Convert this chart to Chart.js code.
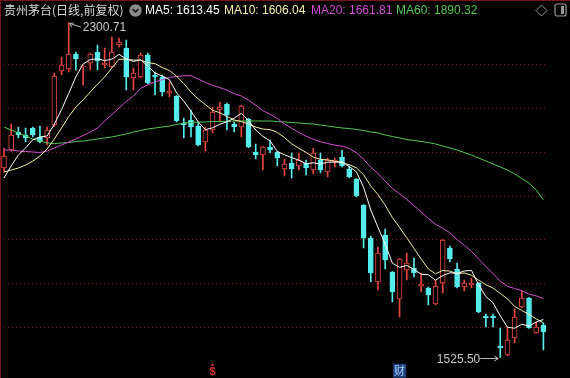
<!DOCTYPE html>
<html><head><meta charset="utf-8">
<script src="https://cdn.jsdelivr.net/npm/chart.js@4.4.1/dist/chart.umd.min.js"></script>
<style>
html,body{margin:0;padding:0;background:#000;}
#wrap{position:relative;width:570px;height:378px;overflow:hidden;background:#000;}
#c{position:absolute;left:0;top:0;}
#hdr{position:absolute;left:0;top:0;width:570px;height:20px;font-family:"Liberation Sans",Arial,sans-serif;font-size:12px;line-height:20px;white-space:nowrap;}
#hdr span{position:absolute;top:0;}
#hdr svg{position:absolute;}
#bl{position:absolute;left:0;top:0;width:1px;height:378px;background:#7a1515;}
#bt{position:absolute;left:0;top:0;width:570px;height:1px;background:#7a1515;}
</style></head>
<body><div id="wrap"><canvas id="c" width="570" height="378"></canvas>
<div id="hdr">
 <span id="title" style="left:4px;color:#d8d8d8;font-family:'Noto Sans CJK SC';">贵州茅台(日线,前复权)</span>
 <svg style="left:129px;top:4px" width="13" height="13" viewBox="0 0 13 13"><circle cx="6.5" cy="6.5" r="6.2" fill="#8a8a8a"/><polyline points="3.6,5.2 6.5,8 9.4,5.2" fill="none" stroke="#111" stroke-width="1.6"/></svg>
 <span id="m5" style="left:145px;color:#ffffff"></span>
 <span id="m10" style="left:224px;color:#f4f0a8"></span>
 <span id="m20" style="left:311px;color:#d24fd2"></span>
 <span id="m60" style="left:396px;color:#55c855"></span>
 <svg style="left:535px;top:4px" width="13" height="13" viewBox="0 0 13 13"><polygon points="6.5,1 12,6.5 6.5,12 1,6.5" fill="none" stroke="#9a9a9a" stroke-width="1"/></svg>
 <svg style="left:554px;top:3px" width="13" height="14" viewBox="0 0 13 14"><rect x="1" y="1" width="11" height="12" rx="2" fill="none" stroke="#9a9a9a" stroke-width="1.2"/><rect x="7" y="3" width="3" height="8" fill="#9a9a9a"/></svg>
</div>
<div id="bl"></div><div id="bt"></div>
</div>
<script>
const opens = [1964.0,2005.7,2047.4,2040.4,2056.6,2035.8,2033.5,2063.5,2188.5,2193.1,2227.8,2197.8,2207.0,2232.5,2202.4,2197.8,2248.7,2241.7,2172.3,2174.6,2225.5,2179.2,2174.6,2137.6,2130.7,2068.2,2075.1,2061.2,2024.2,2052.0,2098.3,2112.1,2065.9,2058.9,2077.4,2001.1,1994.1,2012.6,2001.1,1961.7,1975.6,1968.7,1975.6,1959.4,1982.6,1954.8,1977.9,1989.5,1961.7,1938.6,1878.4,1802.1,1700.3,1809.0,1723.4,1660.9,1728.0,1732.6,1691.0,1686.4,1649.3,1697.9,1778.9,1730.3,1688.7,1693.3,1697.9,1621.6,1621.6,1552.2,1531.3,1570.7,1642.4,1663.2,1582.2,1600.7];
const highs = [2010.3,2065.9,2058.9,2056.6,2058.9,2061.2,2058.9,2183.9,2220.9,2300.71,2232.5,2201.0,2230.2,2248.7,2241.7,2267.2,2264.9,2260.2,2195.4,2230.2,2230.2,2186.2,2179.2,2163.1,2131.5,2079.7,2098.3,2068.2,2058.9,2105.2,2116.8,2114.5,2070.5,2109.8,2079.0,2019.6,2013.5,2028.8,2002.0,1984.9,1998.8,1998.8,1982.6,2010.3,1998.8,1987.2,1987.2,2005.7,1968.7,1939.5,1879.5,1806.7,1781.2,1822.9,1724.5,1754.5,1767.4,1755.8,1721.1,1688.7,1704.9,1798.5,1783.6,1744.2,1704.9,1709.5,1699.0,1626.2,1626.2,1593.8,1596.1,1637.8,1679.4,1664.0,1607.7,1605.4];
const lows = [1954.8,2003.0,2033.5,2024.2,2035.8,2021.9,2017.3,2058.9,2179.2,2186.2,2190.8,2156.1,2190.8,2190.8,2195.4,2196.5,2244.0,2144.5,2144.5,2173.0,2159.0,2133.0,2130.7,2128.3,2070.5,2033.5,2035.8,2015.0,2003.4,2045.0,2070.5,2052.0,2047.4,2035.8,2011.0,1984.9,1959.4,1998.8,1968.7,1945.5,1940.9,1959.4,1947.8,1950.2,1952.5,1943.2,1966.4,1966.4,1940.9,1896.9,1778.9,1700.3,1681.7,1730.3,1654.0,1619.3,1704.9,1711.8,1677.1,1647.0,1647.0,1674.8,1746.5,1686.4,1679.4,1686.4,1629.5,1596.1,1596.1,1525.50,1530.0,1559.1,1640.1,1593.0,1581.0,1542.9];
const closes = [1991.8,2040.4,2040.4,2033.5,2040.4,2024.2,2052.0,2176.9,2202.4,2227.8,2216.3,2200.1,2227.8,2211.6,2207.0,2232.5,2255.6,2174.6,2183.9,2225.5,2160.7,2174.6,2139.9,2142.2,2072.8,2063.5,2058.9,2017.3,2052.0,2093.6,2105.2,2086.7,2058.9,2107.5,2012.6,1994.1,2012.6,2005.7,1987.2,1973.3,1961.7,1982.6,1964.0,1998.8,1959.4,1982.6,1982.6,1968.7,1943.2,1899.3,1802.1,1721.1,1767.4,1751.2,1677.1,1753.5,1744.2,1721.1,1695.6,1670.2,1691.0,1797.4,1753.5,1688.7,1697.9,1697.9,1630.8,1616.9,1616.9,1547.5,1566.0,1619.3,1663.2,1593.8,1596.1,1584.6];
const ma5 = [1940.9,1968.7,1994.1,2010.3,2029.3,2035.8,2038.1,2065.4,2099.2,2136.7,2175.1,2204.7,2214.9,2216.7,2212.6,2215.8,2226.9,2216.3,2210.7,2214.4,2200.1,2183.9,2176.9,2168.6,2138.0,2118.6,2095.5,2070.9,2052.9,2057.1,2065.4,2071.0,2079.3,2090.4,2074.2,2052.0,2037.1,2026.5,2002.4,1994.6,1988.1,1982.1,1973.8,1976.1,1973.3,1977.5,1977.5,1978.4,1967.3,1955.3,1919.2,1866.9,1826.6,1788.2,1743.8,1734.1,1738.7,1729.4,1718.3,1716.9,1704.4,1715.1,1721.5,1720.2,1725.7,1727.1,1693.8,1666.4,1652.1,1622.0,1595.6,1593.3,1602.6,1598.0,1607.7,1613.45];
const ma10 = [1954.8,1959.4,1964.0,1971.0,1980.2,1991.8,2008.0,2031.2,2056.6,2083.0,2105.4,2121.4,2140.1,2158.0,2174.6,2195.4,2215.8,2215.6,2213.7,2213.5,2207.9,2205.4,2196.6,2189.7,2176.2,2159.3,2139.7,2123.9,2110.7,2097.6,2092.0,2083.2,2075.1,2071.6,2065.6,2058.7,2054.1,2052.9,2046.4,2034.4,2020.0,2009.6,2000.1,1989.3,1983.9,1982.8,1979.8,1976.1,1971.7,1964.3,1948.3,1922.2,1902.5,1877.8,1849.5,1826.6,1802.8,1778.0,1753.3,1730.4,1719.2,1726.9,1725.5,1719.2,1721.3,1715.8,1704.4,1694.0,1686.1,1673.9,1661.4,1643.5,1634.5,1625.0,1614.8,1606.04];
const ma20 = [2005.7,2005.7,2003.4,2002.2,2001.1,1999.9,2003.4,2010.3,2017.3,2024.2,2031.2,2039.3,2047.4,2056.6,2072.8,2087.8,2102.9,2117.9,2130.7,2148.2,2156.7,2163.4,2168.4,2173.8,2175.4,2177.4,2177.7,2169.8,2162.2,2155.5,2150.0,2144.3,2135.9,2130.6,2120.9,2109.0,2096.9,2088.4,2078.6,2066.0,2056.0,2046.4,2037.6,2030.5,2024.8,2020.7,2016.9,2014.5,2009.1,1999.3,1984.2,1965.9,1951.3,1933.5,1916.7,1904.7,1891.3,1877.1,1862.5,1847.3,1833.8,1824.5,1814.0,1798.5,1785.4,1771.2,1753.6,1736.0,1719.7,1702.1,1690.3,1685.2,1680.0,1672.1,1668.1,1661.81];
const ma60 = [2058.9,2052.0,2045.0,2038.1,2031.2,2026.5,2021.9,2020.7,2021.9,2023.1,2025.4,2026.5,2028.8,2031.2,2033.5,2035.8,2039.3,2042.7,2047.4,2050.8,2054.3,2056.6,2058.9,2061.2,2064.7,2068.2,2069.3,2070.5,2070.5,2071.6,2071.6,2071.6,2072.8,2072.8,2072.8,2072.8,2072.8,2072.8,2071.6,2070.5,2069.3,2068.2,2067.0,2065.9,2063.5,2061.2,2058.9,2056.6,2055.4,2053.1,2050.8,2047.4,2045.0,2040.4,2036.9,2033.5,2030.0,2027.7,2025.4,2023.1,2019.6,2015.0,2010.3,2005.7,1999.9,1994.1,1987.2,1980.2,1973.3,1966.4,1959.4,1950.2,1939.7,1929.3,1913.1,1890.32];
const markerDollar = 29;   // index of "$" event marker
const markerCai = 55;      // index of "财" event marker
const yMin = 1495.0, yMax = 2303.5;

const RED = '#e8463f', CYAN = '#56ecec';
const sessions = opens.map((_, i) => String(i + 1));
const up = closes.map((c, i) => c >= opens[i]);
const gridVals = [];
for (let k = 0; k <= 8; k++) gridVals.push(yMin + k * (yMax - yMin) / 8);

document.getElementById('m5').textContent = 'MA5: ' + ma5[ma5.length - 1].toFixed(2);
document.getElementById('m10').textContent = 'MA10: ' + ma10[ma10.length - 1].toFixed(2);
document.getElementById('m20').textContent = 'MA20: ' + ma20[ma20.length - 1].toFixed(2);
document.getElementById('m60').textContent = 'MA60: ' + ma60[ma60.length - 1].toFixed(2);

const annot = {
  id: 'annot',
  afterDatasetsDraw(chart) {
    const {ctx, scales: {x, y}, chartArea} = chart;
    ctx.save();
    ctx.font = '12px "Liberation Sans", Arial, sans-serif';
    ctx.textBaseline = 'middle';
    // highest high
    let hi = 0; highs.forEach((v, i) => { if (v > highs[hi]) hi = i; });
    const hx = x.getPixelForValue(hi), hy = y.getPixelForValue(highs[hi]);
    ctx.strokeStyle = '#bdbdbd'; ctx.lineWidth = 1;
    ctx.beginPath(); ctx.moveTo(hx + 1, hy + 1); ctx.lineTo(hx + 12, hy + 4.5); ctx.stroke();
    ctx.beginPath(); ctx.moveTo(hx + 1, hy + 1); ctx.lineTo(hx + 5, hy + 0.5);
    ctx.moveTo(hx + 1, hy + 1); ctx.lineTo(hx + 3, hy + 4.5); ctx.stroke();
    ctx.fillStyle = '#c8c8c8'; ctx.textAlign = 'left';
    ctx.fillText(highs[hi].toFixed(2), hx + 14, hy + 5);
    // lowest low
    let lo = 0; lows.forEach((v, i) => { if (v < lows[lo]) lo = i; });
    const lx = x.getPixelForValue(lo), ly = y.getPixelForValue(lows[lo]);
    ctx.beginPath(); ctx.moveTo(lx - 20, ly + 1); ctx.lineTo(lx - 2, ly + 1); ctx.stroke();
    ctx.beginPath(); ctx.moveTo(lx - 2, ly + 1); ctx.lineTo(lx - 6, ly - 1.5);
    ctx.moveTo(lx - 2, ly + 1); ctx.lineTo(lx - 6, ly + 3.5); ctx.stroke();
    ctx.textAlign = 'right';
    ctx.fillText(lows[lo].toFixed(2), lx - 20, ly + 2);
    // "$" marker
    const dx = x.getPixelForValue(markerDollar);
    const by = chartArea.bottom;
    ctx.fillStyle = '#e03030';
    ctx.font = 'bold 11px "Liberation Sans", Arial, sans-serif';
    ctx.textAlign = 'center';
    ctx.fillText('$', dx, by + 1);
    ctx.beginPath(); ctx.moveTo(dx - 2, by - 5); ctx.lineTo(dx, by - 7.5); ctx.lineTo(dx + 2, by - 5); ctx.closePath(); ctx.fill();
    // "财" marker
    const cx = x.getPixelForValue(markerCai);
    ctx.fillStyle = '#1d3f7a';
    ctx.fillRect(cx - 6.5, by - 7, 13, 14);
    ctx.fillStyle = '#a8d0ff';
    ctx.font = '11px "Noto Sans CJK SC", sans-serif';
    ctx.fillText('财', cx, by);
    ctx.restore();
  }
};

new Chart(document.getElementById('c'), {
  type: 'bar',
  data: {
    labels: sessions,
    datasets: [
      {type: 'line', label: 'MA5', data: ma5, borderColor: '#ffffff', borderWidth: 1, pointRadius: 0, order: 0},
      {type: 'line', label: 'MA10', data: ma10, borderColor: '#f4f0a8', borderWidth: 1, pointRadius: 0, order: 0},
      {type: 'line', label: 'MA20', data: ma20, borderColor: '#d24fd2', borderWidth: 1, pointRadius: 0, order: 0},
      {type: 'line', label: 'MA60', data: ma60, borderColor: '#55c855', borderWidth: 1, pointRadius: 0, order: 0},
      {label: 'body', data: opens.map((o, i) => [o, closes[i]]), grouped: false, barThickness: 5,
       backgroundColor: up.map(u => u ? '#000000' : CYAN), borderColor: up.map(u => u ? RED : CYAN),
       borderWidth: 1, borderSkipped: false, order: 1},
      {label: 'wick', data: lows.map((l, i) => [l, highs[i]]), grouped: false, barThickness: 1,
       backgroundColor: up.map(u => u ? RED : CYAN), borderWidth: 0, order: 2}
    ]
  },
  options: {
    responsive: false, animation: false, devicePixelRatio: 1,
    layout: {padding: {left: 0.4, right: 23, top: 21.3, bottom: 7.3}},
    plugins: {legend: {display: false}, tooltip: {enabled: false}},
    scales: {
      x: {display: false},
      y: {
        min: yMin, max: yMax,
        afterBuildTicks: s => { s.ticks = gridVals.map(v => ({value: v})); },
        ticks: {display: false},
        grid: {drawTicks: false, color: c => (c.index > 0 && c.index < 8) ? '#6e1616' : 'rgba(0,0,0,0)', lineWidth: 1},
        border: {display: false, dash: [1, 3]}
      }
    }
  },
  plugins: [annot]
});
</script>
</body></html>
